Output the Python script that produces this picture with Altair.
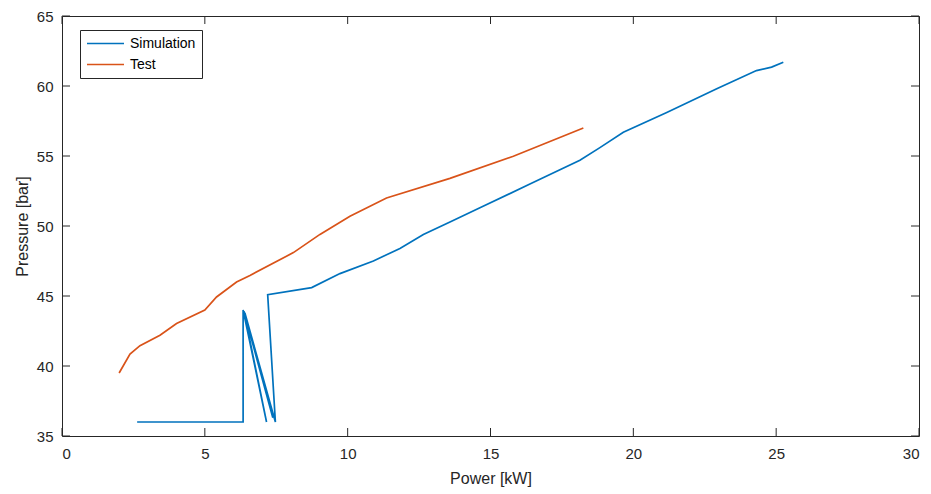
import altair as alt
import pandas as pd

sim_x = [2.63, 6.34, 6.34, 7.16, 6.37, 7.38, 6.40, 7.47, 7.20, 8.74, 9.73, 10.90, 11.83, 12.65,
         13.60, 14.63, 16.38, 18.13, 18.83, 19.65, 21.17, 22.92, 24.31, 24.84, 25.25]
sim_y = [36.0, 36.0, 44.0, 36.0, 43.9, 36.3, 43.8, 36.0, 45.1, 45.6, 46.6, 47.5, 48.4, 49.4,
         50.3, 51.3, 53.0, 54.7, 55.6, 56.7, 58.1, 59.8, 61.1, 61.35, 61.7]

test_x = [2.0, 2.38, 2.73, 3.43, 4.01, 5.0, 5.41, 6.11, 6.58, 8.1, 9.03, 10.08, 11.36, 13.58, 15.8, 18.25]
test_y = [39.5, 40.85, 41.45, 42.2, 43.03, 44.0, 44.93, 46.0, 46.47, 48.1, 49.4, 50.7, 52.0, 53.4, 54.98, 57.0]

x_ticks = [0, 5, 10, 15, 20, 25, 30]
y_ticks = [35, 40, 45, 50, 55, 60, 65]

series = ["Simulation", "Test"]
colors = ["#0072BD", "#D95319"]

rows = []
for i, (x, y) in enumerate(zip(sim_x, sim_y)):
    rows.append({"series": "Simulation", "x": x, "y": y, "idx": i})
for i, (x, y) in enumerate(zip(test_x, test_y)):
    rows.append({"series": "Test", "x": x, "y": y, "idx": i})
df = pd.DataFrame(rows)

W, H = 857, 420
TL = 8
TC = "#262626"
FONT = "Liberation Sans"

xs = alt.Scale(domain=[0, 30], nice=False, zero=False)
ys = alt.Scale(domain=[35, 65], nice=False, zero=False)
x_axis = alt.Axis(values=x_ticks, tickSize=0, domain=False, grid=False,
                  labelPadding=10, titlePadding=9)
y_axis = alt.Axis(values=y_ticks, tickSize=0, domain=False, grid=False,
                  labelPadding=9, titlePadding=6)
XT = "Power [kW]"
YT = "Pressure [bar]"

lines = alt.Chart(df).mark_line(strokeWidth=1.7, clip=True).encode(
    x=alt.X("x:Q", scale=xs, title=XT, axis=x_axis),
    y=alt.Y("y:Q", scale=ys, title=YT, axis=y_axis),
    color=alt.Color("series:N", scale=alt.Scale(domain=series, range=colors),
                    legend=alt.Legend(title=None, orient="none", legendX=18, legendY=14,
                                      strokeColor=TC, fillColor="white", padding=6,
                                      symbolType="stroke", symbolSize=1369,
                                      symbolStrokeWidth=1.7, labelFontSize=14,
                                      labelFont=FONT, labelColor="#000000",
                                      clipHeight=15, rowPadding=6, labelOffset=5)),
    order=alt.Order("idx:Q"),
)

xt = pd.DataFrame({"t": x_ticks})
yt = pd.DataFrame({"t": y_ticks})

bottom = alt.Chart(xt).mark_rule(color=TC, strokeWidth=1).encode(
    x=alt.X("t:Q", scale=xs, title=XT, axis=x_axis), y=alt.value(H), y2=alt.value(H - TL))
top = alt.Chart(xt).mark_rule(color=TC, strokeWidth=1).encode(
    x=alt.X("t:Q", scale=xs, title=XT, axis=x_axis), y=alt.value(0), y2=alt.value(TL))
left = alt.Chart(yt).mark_rule(color=TC, strokeWidth=1).encode(
    y=alt.Y("t:Q", scale=ys, title=YT, axis=y_axis), x=alt.value(0), x2=alt.value(TL))
right = alt.Chart(yt).mark_rule(color=TC, strokeWidth=1).encode(
    y=alt.Y("t:Q", scale=ys, title=YT, axis=y_axis), x=alt.value(W), x2=alt.value(W - TL))

chart = alt.layer(lines, bottom, top, left, right).properties(
    width=W, height=H,
    background="white",
    autosize=alt.AutoSizeParams(type="none"),
    padding={"left": 54, "top": 8, "right": 4, "bottom": 58},
).configure_view(stroke=TC, strokeWidth=1).configure_axis(
    labelFont=FONT, titleFont=FONT, labelFontSize=15, titleFontSize=16,
    labelColor=TC, titleColor=TC, titleFontWeight="normal",
)

chart.save("out.html", embed_options={"renderer": "svg", "actions": False})
